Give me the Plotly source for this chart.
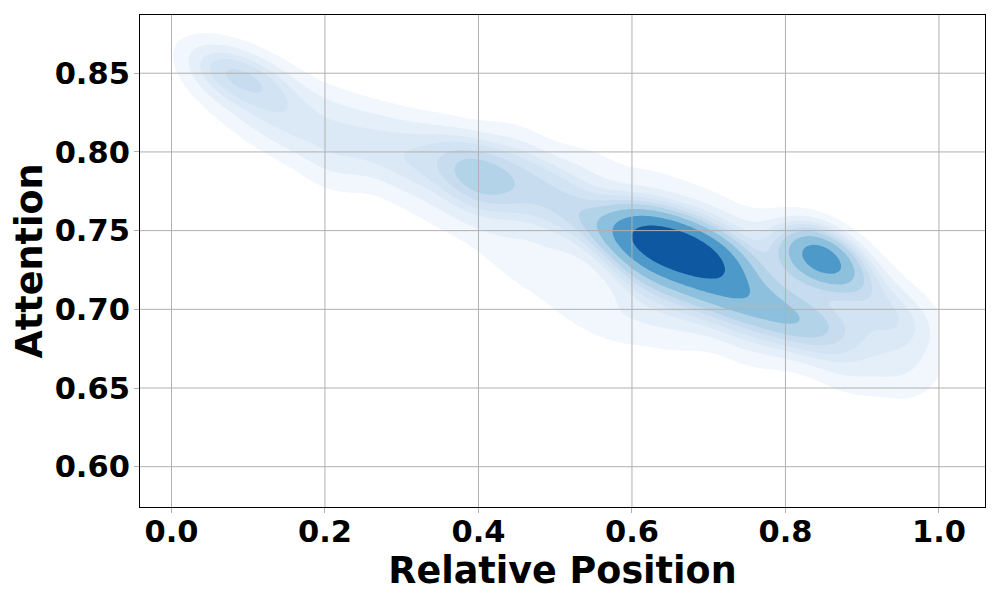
import numpy as np
import plotly.graph_objects as go
from plotly.colors import sample_colorscale

# sample points (relative position, attention, weight)
rel_pos = [0.04, 0.07, 0.10, 0.13,
           0.06, 0.12, 0.17, 0.17, 0.22, 0.22, 0.27, 0.27, 0.32, 0.32, 0.37, 0.37,
           0.41, 0.40, 0.44, 0.45, 0.49, 0.49, 0.53, 0.53,
           0.35, 0.42, 0.47, 0.52, 0.50,
           0.57, 0.61, 0.64, 0.67, 0.70, 0.73,
           0.60, 0.64, 0.68, 0.72, 0.76, 0.80, 0.84, 0.88,
           0.62, 0.68, 0.74, 0.80, 0.86, 0.92, 0.97, 0.88, 0.95,
           0.60, 0.66, 0.72, 0.78, 0.84, 0.90, 0.95, 0.98,
           0.845, 0.80, 0.88, 0.92, 0.95,
           0.15, 0.22, 0.30, 0.38, 0.45, 0.55, 0.63, 0.70, 0.58, 0.65, 0.75,
           0.10, 0.20, 0.45, 0.52, 0.57]
attention = [0.856, 0.852, 0.848, 0.842,
             0.835, 0.825, 0.815, 0.835, 0.805, 0.825, 0.798, 0.818, 0.790, 0.810, 0.785, 0.805,
             0.793, 0.777, 0.770, 0.790, 0.765, 0.785, 0.760, 0.780,
             0.760, 0.745, 0.725, 0.715, 0.740,
             0.748, 0.746, 0.742, 0.738, 0.733, 0.728,
             0.725, 0.720, 0.715, 0.710, 0.706, 0.698, 0.692, 0.690,
             0.700, 0.695, 0.690, 0.680, 0.672, 0.668, 0.665, 0.655, 0.650,
             0.765, 0.760, 0.752, 0.745, 0.740, 0.720, 0.705, 0.690,
             0.733, 0.728, 0.725, 0.700, 0.685,
             0.805, 0.790, 0.775, 0.760, 0.810, 0.795, 0.785, 0.770, 0.690, 0.680, 0.670,
             0.815, 0.785, 0.730, 0.700, 0.695]
weight = [0.7, 1.0, 1.0, 0.8,
          0.4, 0.6, 0.7, 0.5, 0.7, 0.6, 0.8, 0.6, 0.9, 0.7, 1.0, 0.8,
          1.2, 1.2, 1.0, 0.9, 1.0, 0.8, 1.0, 0.6,
          0.3, 0.4, 0.35, 0.4, 0.5,
          1.8, 3.0, 3.5, 3.5, 2.8, 2.0,
          1.2, 1.2, 1.3, 1.5, 1.8, 1.8, 1.4, 1.0,
          0.6, 0.7, 0.8, 0.8, 0.7, 0.6, 0.5, 0.4, 0.35,
          0.7, 0.6, 0.6, 0.6, 0.6, 0.6, 0.5, 0.5,
          4.5, 1.0, 1.0, 0.8, 0.7,
          0.4, 0.4, 0.4, 0.4, 0.4, 0.4, 0.35, 0.3, 0.35, 0.35, 0.35,
          0.3, 0.35, 0.35, 0.35, 0.35]

x_ticks = [0.0, 0.2, 0.4, 0.6, 0.8, 1.0]
y_ticks = [0.60, 0.65, 0.70, 0.75, 0.80, 0.85]

BW_ALONG, BW_ACROSS, SLOPE = 0.035, 0.013, -0.18
N_LEVELS, THRESH = 10, 0.05

gx = np.linspace(0.0, 1.0, 320)
gy = np.linspace(0.60, 0.89, 320)


def kde_grid(xs, ys, ws):
    ang = np.arctan(SLOPE)
    c, s = np.cos(ang), np.sin(ang)
    R = np.array([[c, -s], [s, c]])
    inv = np.linalg.inv(R @ np.diag([BW_ALONG**2, BW_ACROSS**2]) @ R.T)
    X, Y = np.meshgrid(gx, gy)
    Z = np.zeros_like(X)
    for x0, y0, w in zip(xs, ys, ws):
        dx, dy = X - x0, Y - y0
        Z += w * np.exp(-0.5 * (inv[0, 0]*dx*dx + 2*inv[0, 1]*dx*dy + inv[1, 1]*dy*dy))
    return Z


Z = kde_grid(rel_pos, attention, weight)

# iso-proportion levels, like seaborn
flat = Z.ravel()
order = np.argsort(flat)[::-1]
srt = flat[order]
cum = np.cumsum(srt) / flat.sum()
mass_above = np.empty_like(flat)
mass_above[order] = cum
P = (1 - mass_above).reshape(Z.shape)

q = np.linspace(THRESH, 1, N_LEVELS)
L = np.take(srt, np.searchsorted(cum, 1 - q), mode="clip")
mids = 0.5 * (L[:-1] + L[1:])
band_cols = sample_colorscale("Blues", list((mids - L[0]) / (L[-1] - L[0])))

nb = len(band_cols)
cscale = [[0.0, "rgba(255,255,255,0)"]] + [[(k + 1) / nb, col] for k, col in enumerate(band_cols)]
step = (1 - THRESH) / (N_LEVELS - 1)

fig = go.Figure(go.Contour(
    x=gx, y=gy, z=P,
    autocontour=False,
    contours=dict(start=THRESH, end=q[-2] + 1e-6, size=step, coloring="fill", showlines=False),
    colorscale=cscale, showscale=False, line=dict(width=0), hoverinfo="skip"))

shapes = []
for t in x_ticks:
    shapes.append(dict(type="line", xref="x", yref="paper", x0=t, x1=t, y0=0, y1=1,
                       line=dict(color="#b0b0b0", width=1), layer="above"))
for t in y_ticks:
    shapes.append(dict(type="line", xref="paper", yref="y", x0=0, x1=1, y0=t, y1=t,
                       line=dict(color="#b0b0b0", width=1), layer="above"))

font = "DejaVu Sans"
axis = dict(showgrid=False, zeroline=False, showline=True, mirror=True, linecolor="black",
            linewidth=1, ticks="outside", ticklen=5, tickcolor="#b0b0b0", automargin=False,
            tickfont=dict(family=font, size=30.5, color="black", weight="bold"))

fig.update_layout(
    width=1000, height=600, plot_bgcolor="white", paper_bgcolor="white",
    margin=dict(l=132, r=23, t=7, b=101),
    shapes=shapes, showlegend=False,
    xaxis=dict(axis, range=[-0.041, 1.060], tickvals=x_ticks, ticktext=["0.0", "0.2", "0.4", "0.6", "0.8", "1.0"],
               ticklabelstandoff=-8,
               title=dict(text="Relative Position", standoff=0,
                          font=dict(family=font, size=36.5, color="black", weight="bold"))),
    yaxis=dict(axis, range=[0.5744, 0.887], tickvals=y_ticks, ticktext=["0.60", "0.65", "0.70", "0.75", "0.80", "0.85"],
               ticklabelstandoff=-2,
               title=dict(text="Attention", standoff=4,
                          font=dict(family=font, size=36.5, color="black", weight="bold"))),
)

fig.write_html("out.html")
